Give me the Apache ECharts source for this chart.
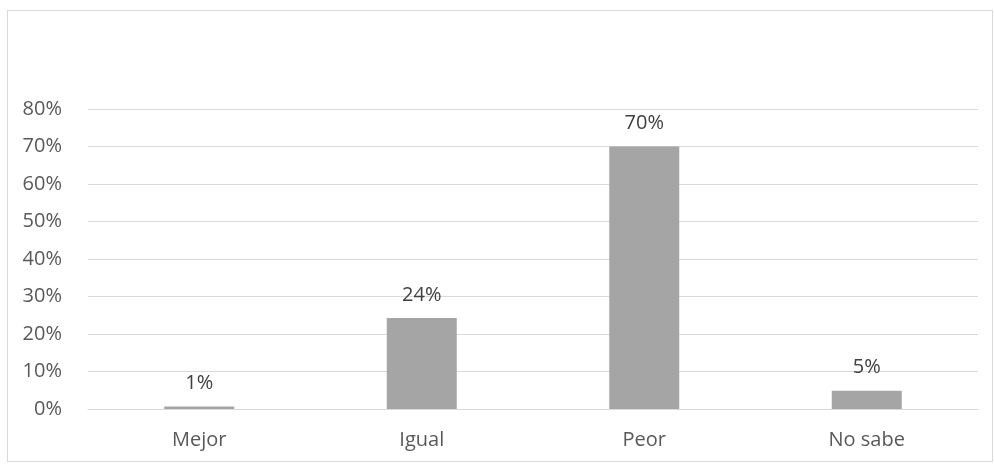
<!DOCTYPE html>
<html>
<head>
<meta charset="utf-8">
<script src="https://cdn.jsdelivr.net/npm/echarts@6/dist/echarts.min.js"></script>
<style>
html,body{margin:0;padding:0;background:#fff;}
#wrap{position:absolute;left:7px;top:10px;width:986px;height:452px;border:1px solid #d9d9d9;box-sizing:border-box;}
#chart{position:absolute;left:0;top:0;width:994px;height:464px;}
</style>
</head>
<body>
<div id="wrap"></div>
<div id="chart"></div>
<script>
const categories = ['Mejor', 'Igual', 'Peor', 'No sabe'];
const values = [0.7, 24.3, 70.0, 4.9];
const labels = ['1%', '24%', '70%', '5%'];
const yTicks = [0, 10, 20, 30, 40, 50, 60, 70, 80];

const chart = echarts.init(document.getElementById('chart'), null, {renderer: 'canvas'});
const font = '"Open Sans", "Liberation Sans", sans-serif';
chart.setOption({
  animation: false,
  grid: {left: 88, right: 16, top: 109, bottom: 55, containLabel: false},
  xAxis: {
    type: 'category',
    data: categories,
    axisLine: {show: true, lineStyle: {color: '#d9d9d9', width: 1}},
    axisTick: {show: false},
    axisLabel: {color: '#595959', fontSize: 20, fontFamily: font, margin: 21}
  },
  yAxis: {
    type: 'value',
    min: yTicks[0],
    max: yTicks[yTicks.length - 1],
    interval: 10,
    axisLine: {show: false},
    axisTick: {show: false},
    splitLine: {lineStyle: {color: '#d9d9d9', width: 1}},
    axisLabel: {color: '#595959', fontSize: 20, fontFamily: font, margin: 26,
      formatter: v => v + '%'}
  },
  series: [{
    type: 'bar',
    data: values,
    barWidth: 70,
    itemStyle: {color: '#a5a5a5'},
    label: {
      show: true,
      position: 'top',
      distance: 13,
      color: '#404040',
      fontSize: 20,
      fontFamily: font,
      formatter: p => labels[p.dataIndex]
    }
  }]
});
</script>
</body>
</html>
